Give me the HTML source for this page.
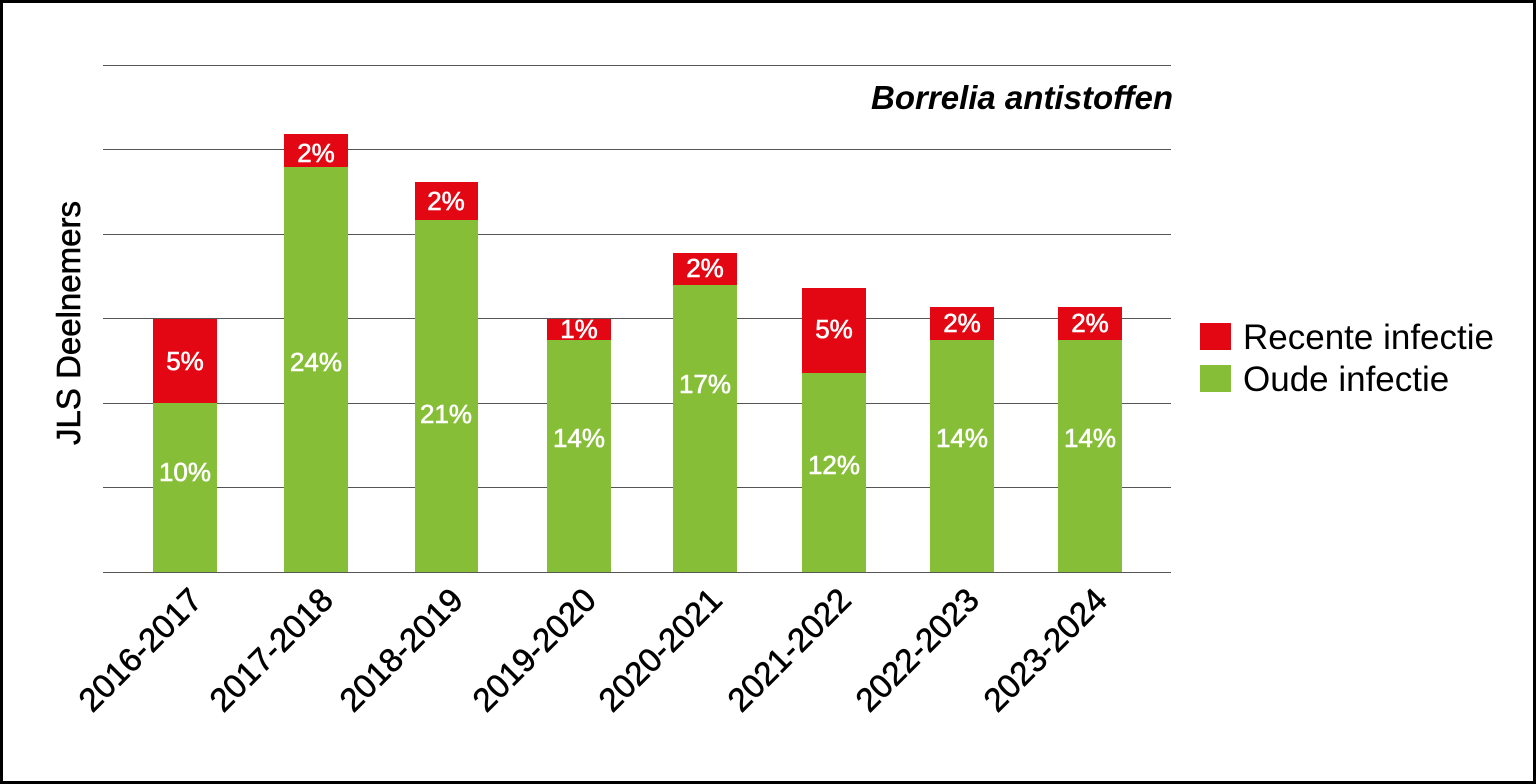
<!DOCTYPE html>
<html><head><meta charset="utf-8"><style>
body{margin:0;background:#fff}
svg{display:block}
text{font-family:"Liberation Sans",sans-serif}
</style></head><body>
<svg width="1536" height="784" viewBox="0 0 1536 784">
<rect x="1.5" y="1.5" width="1533" height="781" fill="#fff" stroke="#000" stroke-width="3"/>
<g stroke="#555" stroke-width="1">
<line x1="103" x2="1171" y1="65.5" y2="65.5"/>
<line x1="103" x2="1171" y1="149.5" y2="149.5"/>
<line x1="103" x2="1171" y1="234.5" y2="234.5"/>
<line x1="103" x2="1171" y1="318.5" y2="318.5"/>
<line x1="103" x2="1171" y1="403.5" y2="403.5"/>
<line x1="103" x2="1171" y1="487.5" y2="487.5"/>
<line x1="103" x2="1171" y1="572.5" y2="572.5"/>
</g>
<g>
<rect x="153" y="403" width="64" height="169" fill="#86be37"/><rect x="153" y="319" width="64" height="84" fill="#e30613"/>
<rect x="284" y="167" width="64" height="405" fill="#86be37"/><rect x="284" y="134" width="64" height="33" fill="#e30613"/>
<rect x="415" y="220" width="63" height="352" fill="#86be37"/><rect x="415" y="182" width="63" height="38" fill="#e30613"/>
<rect x="547" y="340" width="64" height="232" fill="#86be37"/><rect x="547" y="319" width="64" height="21" fill="#e30613"/>
<rect x="673" y="285" width="64" height="287" fill="#86be37"/><rect x="673" y="253" width="64" height="32" fill="#e30613"/>
<rect x="802" y="373" width="64" height="199" fill="#86be37"/><rect x="802" y="288" width="64" height="85" fill="#e30613"/>
<rect x="930" y="340" width="64" height="232" fill="#86be37"/><rect x="930" y="307" width="64" height="33" fill="#e30613"/>
<rect x="1058" y="340" width="64" height="232" fill="#86be37"/><rect x="1058" y="307" width="64" height="33" fill="#e30613"/>
</g>
<g fill="#fff" font-size="26" text-anchor="middle" stroke="#fff" stroke-width="0.6">
<text x="185" y="481">10%</text><text x="185" y="370">5%</text>
<text x="316" y="371">24%</text><text x="316" y="162">2%</text>
<text x="446" y="423">21%</text><text x="446" y="210">2%</text>
<text x="579" y="447">14%</text><text x="579" y="338">1%</text>
<text x="705" y="393">17%</text><text x="705" y="277">2%</text>
<text x="834" y="474">12%</text><text x="834" y="338">5%</text>
<text x="962" y="447">14%</text><text x="962" y="332">2%</text>
<text x="1090" y="447">14%</text><text x="1090" y="332">2%</text>
</g>
<text x="1173" y="109" font-size="33" font-weight="bold" font-style="italic" text-anchor="end" fill="#000">Borrelia antistoffen</text>
<text transform="translate(80,323) rotate(-90)" font-size="33" text-anchor="middle" fill="#000" stroke="#000" stroke-width="0.6">JLS Deelnemers</text>
<rect x="1200" y="323" width="31" height="27" fill="#e30613"/>
<rect x="1200" y="365" width="31" height="27" fill="#86be37"/>
<text x="1243" y="349" font-size="35" fill="#000">Recente infectie</text>
<text x="1243" y="391" font-size="35" fill="#000">Oude infectie</text>
<g font-size="33" text-anchor="end" fill="#000" stroke="#000" stroke-width="0.6">
<text transform="translate(204,602) rotate(-45)">2016-2017</text>
<text transform="translate(335,602) rotate(-45)">2017-2018</text>
<text transform="translate(465,602) rotate(-45)">2018-2019</text>
<text transform="translate(598,602) rotate(-45)">2019-2020</text>
<text transform="translate(724,602) rotate(-45)">2020-2021</text>
<text transform="translate(853,602) rotate(-45)">2021-2022</text>
<text transform="translate(981,602) rotate(-45)">2022-2023</text>
<text transform="translate(1109,602) rotate(-45)">2023-2024</text>
</g>
</svg>
</body></html>
